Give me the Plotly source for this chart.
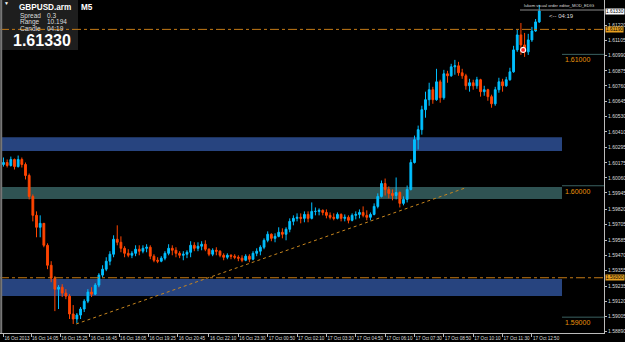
import plotly.graph_objects as go
import pandas as pd

# ---------------- data (GBPUSD.arm, candles) ----------------
first_open = 1.60162
highs = [1.60215, 1.60200, 1.60222, 1.60207, 1.60230, 1.60215, 1.60177, 1.60093, 1.59934, 1.59805,
         1.59775, 1.59699, 1.59562, 1.59426, 1.59312, 1.59244, 1.59251, 1.59213, 1.59175, 1.59092,
         1.59031, 1.59077, 1.59137, 1.59213, 1.59228, 1.59259, 1.59335, 1.59395, 1.59456, 1.59502,
         1.59623, 1.59699, 1.59615, 1.59540, 1.59517, 1.59502, 1.59547, 1.59547, 1.59547, 1.59555,
         1.59547, 1.59479, 1.59456, 1.59464, 1.59502, 1.59555, 1.59547, 1.59532, 1.59502, 1.59502,
         1.59509, 1.59578, 1.59570, 1.59570, 1.59578, 1.59585, 1.59524, 1.59524, 1.59532, 1.59509,
         1.59486, 1.59486, 1.59479, 1.59479, 1.59471, 1.59471, 1.59479, 1.59479, 1.59502, 1.59524,
         1.59547, 1.59600, 1.59653, 1.59638, 1.59638, 1.59684, 1.59676, 1.59684, 1.59752, 1.59775,
         1.59790, 1.59790, 1.59805, 1.59805, 1.59873, 1.59835, 1.59828, 1.59820, 1.59820, 1.59797,
         1.59790, 1.59797, 1.59790, 1.59782, 1.59775, 1.59790, 1.59805, 1.59820, 1.59843, 1.59813,
         1.59797, 1.59866, 1.59942, 1.60040, 1.60055, 1.59995, 1.59972, 1.60063, 1.59957, 1.59919,
         1.60002, 1.60200, 1.60382, 1.60458, 1.60609, 1.60716, 1.60784, 1.60753, 1.60890, 1.60807,
         1.60882, 1.60875, 1.60928, 1.60958, 1.60943, 1.60890, 1.60852, 1.60814, 1.60807, 1.60829,
         1.60814, 1.60761, 1.60738, 1.60693, 1.60753, 1.60822, 1.60814, 1.60829, 1.60898, 1.61065,
         1.61186, 1.61239, 1.61163, 1.61156, 1.61209, 1.61269, 1.61376]
lows = [1.60146, 1.60139, 1.60146, 1.60124, 1.60139, 1.60139, 1.60048, 1.59896, 1.59729, 1.59608,
        1.59608, 1.59532, 1.59365, 1.59266, 1.59046, 1.59062, 1.59153, 1.59137, 1.58986, 1.58948,
        1.58955, 1.58986, 1.59039, 1.59107, 1.59153, 1.59168, 1.59228, 1.59304, 1.59350, 1.59395,
        1.59456, 1.59547, 1.59494, 1.59456, 1.59456, 1.59449, 1.59464, 1.59471, 1.59486, 1.59494,
        1.59441, 1.59418, 1.59411, 1.59418, 1.59433, 1.59471, 1.59471, 1.59456, 1.59449, 1.59433,
        1.59449, 1.59456, 1.59502, 1.59502, 1.59509, 1.59502, 1.59464, 1.59464, 1.59471, 1.59456,
        1.59433, 1.59441, 1.59441, 1.59441, 1.59426, 1.59418, 1.59426, 1.59418, 1.59433, 1.59464,
        1.59471, 1.59517, 1.59570, 1.59578, 1.59570, 1.59608, 1.59600, 1.59585, 1.59646, 1.59699,
        1.59729, 1.59714, 1.59722, 1.59722, 1.59744, 1.59775, 1.59775, 1.59775, 1.59752, 1.59744,
        1.59737, 1.59744, 1.59729, 1.59729, 1.59714, 1.59729, 1.59744, 1.59752, 1.59760, 1.59737,
        1.59737, 1.59775, 1.59828, 1.59911, 1.59926, 1.59904, 1.59889, 1.59896, 1.59835, 1.59851,
        1.59873, 1.59964, 1.60169, 1.60276, 1.60389, 1.60518, 1.60609, 1.60624, 1.60647, 1.60632,
        1.60655, 1.60784, 1.60829, 1.60845, 1.60837, 1.60814, 1.60731, 1.60716, 1.60731, 1.60738,
        1.60678, 1.60685, 1.60647, 1.60594, 1.60609, 1.60708, 1.60716, 1.60753, 1.60799, 1.60860,
        1.61019, 1.60996, 1.60981, 1.60996, 1.61095, 1.61171, 1.61239]
closes = [1.60177, 1.60154, 1.60200, 1.60146, 1.60200, 1.60162, 1.60078, 1.59919, 1.59775, 1.59684,
          1.59714, 1.59547, 1.59395, 1.59297, 1.59213, 1.59228, 1.59183, 1.59160, 1.59024, 1.58986,
          1.59016, 1.59062, 1.59122, 1.59191, 1.59175, 1.59244, 1.59320, 1.59365, 1.59426, 1.59479,
          1.59593, 1.59570, 1.59524, 1.59486, 1.59471, 1.59486, 1.59517, 1.59502, 1.59524, 1.59532,
          1.59464, 1.59433, 1.59426, 1.59449, 1.59486, 1.59524, 1.59509, 1.59486, 1.59471, 1.59479,
          1.59494, 1.59547, 1.59524, 1.59540, 1.59555, 1.59517, 1.59479, 1.59509, 1.59502, 1.59471,
          1.59456, 1.59471, 1.59464, 1.59456, 1.59449, 1.59433, 1.59464, 1.59441, 1.59486, 1.59502,
          1.59532, 1.59585, 1.59631, 1.59600, 1.59615, 1.59646, 1.59631, 1.59669, 1.59729, 1.59752,
          1.59760, 1.59752, 1.59782, 1.59752, 1.59805, 1.59805, 1.59813, 1.59797, 1.59775, 1.59760,
          1.59752, 1.59782, 1.59752, 1.59760, 1.59737, 1.59775, 1.59782, 1.59797, 1.59775, 1.59760,
          1.59782, 1.59843, 1.59919, 1.60017, 1.59972, 1.59942, 1.59926, 1.59949, 1.59866, 1.59896,
          1.59972, 1.60177, 1.60351, 1.60427, 1.60579, 1.60655, 1.60731, 1.60655, 1.60791, 1.60670,
          1.60852, 1.60837, 1.60905, 1.60913, 1.60860, 1.60837, 1.60761, 1.60784, 1.60761, 1.60807,
          1.60716, 1.60731, 1.60678, 1.60624, 1.60731, 1.60791, 1.60761, 1.60807, 1.60867, 1.61034,
          1.61148, 1.61072, 1.61019, 1.61110, 1.61178, 1.61247, 1.61330]
opens = [first_open] + closes[:-1]
times = pd.date_range("2013-10-16 12:50", periods=len(closes), freq="10min")

x_tick_times = ["2013-10-16 12:50", "2013-10-16 14:05", "2013-10-16 15:25", "2013-10-16 16:45",
                "2013-10-16 18:05", "2013-10-16 19:25", "2013-10-16 20:45", "2013-10-16 22:10",
                "2013-10-16 23:30", "2013-10-17 00:50", "2013-10-17 02:10", "2013-10-17 03:30",
                "2013-10-17 04:50", "2013-10-17 06:10", "2013-10-17 07:30", "2013-10-17 08:50",
                "2013-10-17 10:10", "2013-10-17 11:30", "2013-10-17 12:50"]
x_tick_labels = ["16 Oct 2013", "16 Oct 14:05", "16 Oct 15:25", "16 Oct 16:45", "16 Oct 18:05",
                 "16 Oct 19:25", "16 Oct 20:45", "16 Oct 22:10", "16 Oct 23:30", "17 Oct 00:50",
                 "17 Oct 02:10", "17 Oct 03:30", "17 Oct 04:50", "17 Oct 06:10", "17 Oct 07:30",
                 "17 Oct 08:50", "17 Oct 10:10", "17 Oct 11:30", "17 Oct 12:50"]
y_tick_vals = [1.61220, 1.61105, 1.60990, 1.60875, 1.60760, 1.60645, 1.60530, 1.60410, 1.60295,
               1.60175, 1.60060, 1.59945, 1.59820, 1.59705, 1.59585, 1.59470, 1.59355, 1.59235,
               1.59120, 1.59005, 1.58890]

bid_price = 1.61330
level_lines = [1.61000, 1.60000, 1.59000]
alert_lines = [1.61190, 1.59300]
zones_blue = [(1.60370, 1.60265), (1.59290, 1.59161)]
zone_teal = (1.59990, 1.59900)
zone_time = ("2013-10-16 12:46", "2013-10-17 14:12")
trend_times = ["2013-10-16 16:08", "2013-10-17 09:48"]
trend_prices = [1.58948, 1.59983]
order_time = ["2013-10-17 12:26"]
order_price = [1.61034]

x_range = ["2013-10-16 12:40:30", "2013-10-17 16:06:25"]
y_range = [1.588795, 1.614137]

W, H = 625, 342
ML, MR, MT, MB = 0, 21, 0, 9
PW, PH = W - ML - MR, H - MT - MB
FONT = "Liberation Sans"


def px(x):
    return x / PW


def py(y):
    return 1 - y / PH


fig = go.Figure()
fig.add_trace(go.Candlestick(
    x=times, open=opens, high=highs, low=lows, close=closes,
    increasing=dict(line=dict(color="#00BFFF", width=1), fillcolor="#00BFFF"),
    decreasing=dict(line=dict(color="#FF4500", width=1), fillcolor="#FF4500"),
    whiskerwidth=0, hoverinfo="skip", showlegend=False,
))
fig.add_trace(go.Scatter(
    x=order_time, y=order_price, mode="markers",
    marker=dict(symbol="circle", size=5, color="#ff2020", line=dict(color="white", width=1.2)),
    hoverinfo="skip", showlegend=False,
))

shapes = []
# info panel
shapes.append(dict(type="rect", xref="paper", yref="paper", x0=0, x1=px(78), y0=py(50), y1=1,
                   fillcolor="#1e1e1e", line=dict(width=0), layer="below"))
# zones
for top, bot in zones_blue:
    shapes.append(dict(type="rect", xref="x", yref="y", x0=zone_time[0], x1=zone_time[1],
                       y0=bot, y1=top, fillcolor="#27447f", line=dict(width=0), layer="below"))
shapes.append(dict(type="rect", xref="x", yref="y", x0=zone_time[0], x1=zone_time[1],
                   y0=zone_teal[1], y1=zone_teal[0], fillcolor="#2f5353", line=dict(width=0),
                   layer="below"))
# level lines on the right
for lv in level_lines:
    shapes.append(dict(type="line", xref="x", yref="y", x0=zone_time[1], x1=x_range[1],
                       y0=lv, y1=lv, line=dict(color="#3b6262", width=1), layer="below"))
# alert lines
for al in alert_lines:
    shapes.append(dict(type="line", xref="paper", yref="y", x0=0, x1=1, y0=al, y1=al,
                       line=dict(color="#c47a16", width=1, dash="dashdot")))
# trend line
shapes.append(dict(type="line", xref="x", yref="y", x0=trend_times[0], x1=trend_times[1],
                   y0=trend_prices[0], y1=trend_prices[1],
                   line=dict(color="#c8861e", width=1, dash="dot")))
# separator under the editor caption
shapes.append(dict(type="line", xref="paper", yref="paper", x0=px(520), x1=1, y0=py(10), y1=py(10),
                   line=dict(color="#8a8a8a", width=1)))
# left border
shapes.append(dict(type="line", xref="paper", yref="paper", x0=0.002, x1=0.002, y0=0, y1=1,
                   line=dict(color="#777777", width=2)))

ann = []
def txt(x, y, s, size, color="#ffffff", xref="paper", yref="paper", bg=None, anchor="left"):
    d = dict(x=x, y=y, xref=xref, yref=yref, text=s, showarrow=False, xanchor=anchor,
             yanchor="middle", font=dict(family=FONT, size=size, color=color))
    if bg:
        d.update(bgcolor=bg, borderpad=0)
    ann.append(d)

txt(px(2), py(3), "▼", 5)
txt(px(17), py(7.5), "<b>GBPUSD.arm</b>", 8.2)
txt(px(79), py(7.5), "<b>M5</b>", 8.2)
txt(px(18), py(15.5), "Spread", 6.5, "#dddddd")
txt(px(45), py(15.5), "0.3", 6.5, "#dddddd")
txt(px(18), py(22), "Range", 6.5, "#dddddd")
txt(px(45), py(22), "10.194", 6.5, "#dddddd")
txt(px(18), py(28.5), "Candle", 6.5, "#dddddd")
txt(px(45), py(28.5), "04:19", 6.5, "#dddddd")
txt(px(11), py(40.5), "<b>1.61330</b>", 16)
txt(px(522), py(5.5), "lukom visual order editor_MOD_EDIG", 4.2, "#dddddd")
txt(px(547), py(15.5), "<-- 04:19", 6, "#dddddd")
for lv in level_lines:
    txt(px(563), lv, f"{lv:.5f}", 7, "#e8940c", yref="y")
    ann[-1]["yanchor"] = "top"
# price tags on the axis
txt(1.002, bid_price, "1.61330", 4.8, "#000000", yref="y", bg="#ffffff")
for al in alert_lines:
    txt(1.002, al, f"{al:.5f}", 4.8, "#000000", yref="y", bg="#e8a020")

fig.update_layout(
    width=W, height=H, margin=dict(l=ML, r=MR, t=MT, b=MB, autoexpand=False),
    paper_bgcolor="#000000", plot_bgcolor="#000000",
    shapes=shapes, annotations=ann, showlegend=False,
    xaxis=dict(type="date", range=x_range, showgrid=False, zeroline=False, showline=True,
               linecolor="#bbbbbb", linewidth=1, ticks="outside", ticklen=3, tickcolor="#bbbbbb",
               tickvals=x_tick_times, ticktext=x_tick_labels, ticklabelposition="outside right",
               tickangle=0, automargin=False,
               tickfont=dict(family=FONT, size=4.6, color="#dddddd"),
               rangeslider=dict(visible=False), fixedrange=True),
    yaxis=dict(side="right", range=y_range, showgrid=False, zeroline=False, showline=True,
               linecolor="#bbbbbb", linewidth=1, ticks="outside", ticklen=2, tickcolor="#bbbbbb",
               tickvals=y_tick_vals, ticktext=[f"{v:.5f}" for v in y_tick_vals], automargin=False,
               tickfont=dict(family=FONT, size=5, color="#dddddd"), fixedrange=True),
)

fig.write_html("out.html")
